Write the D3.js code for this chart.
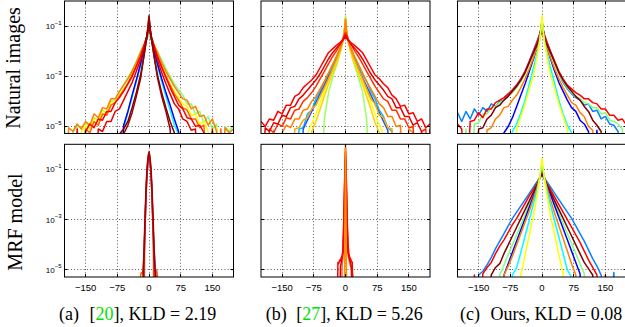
<!DOCTYPE html>
<html><head><meta charset="utf-8">
<script src="https://cdn.jsdelivr.net/npm/d3@7"></script>
<style>body{margin:0;background:#fff}svg{display:block}</style>
</head><body>
<svg id="chart" width="625" height="327"></svg>
<script>
const _ = null;
// ---- axes ----
const xTicks = [-150, -75, 0, 75, 150];
const xTickLabels = ["\u2212150", "\u221275", "0", "75", "150"];
const yTickExps = [-1, -3, -5];
const rowLabels = ["Natural images", "MRF model"];
const capLetters = ["(a)", "(b)", "(c)"];
const capRefs = ["20", "27", null];
const capKLD = ["2.19", "5.26", "0.08"];

// ---- x grids (filter response) ----
const xsWide = [-200,-190,-180,-170,-160,-150,-140,-130,-120,-110,-100,-90,-80,-70,-60,-50,-40,-30,-20,-12,-6,-3,
  0, 3,6,12,20,30,40,50,60,70,80,90,100,110,120,130,140,150,160,170,180,190,200];
const xsNarrow = [-24,-22,-20,-18,-16,-14,-12,-10,-8,-6,-4,-2,0,2,4,6,8,10,12,14,16,18,20,22,24];

// ---- log10 densities, (a) natural images ----
const natA_lightgreen = [-5.0,_,-5.25,-4.95,_,-4.85,-5.1,-4.65,-4.75,-4.35,-4.45,-4.0,-3.95,-3.6,-3.35,-3.05,-2.75,-2.4,-2.0,-1.75,-1.55,-1.45,
  -1.35, -1.45,-1.55,-1.75,-2.0,-2.35,-2.7,-3.0,-3.3,-3.55,-3.75,-4.1,-4.1,-4.5,-4.4,-4.85,-4.6,-5.1,-4.9,_,-5.0,-5.2,-4.95];
const natA_orange1 = [_,-5.05,-5.2,-4.9,-5.1,-4.8,-4.95,-4.5,-4.65,-4.25,-4.3,-3.9,-3.9,-3.6,-3.35,-3.1,-2.8,-2.45,-2.05,-1.75,-1.5,-1.35,
  -1.2, -1.35,-1.5,-1.75,-2.05,-2.45,-2.8,-3.1,-3.4,-3.65,-3.9,-3.95,-4.3,-4.2,-4.6,-4.55,-4.95,-4.7,-5.2,_,-5.05,-5.25,-5.1];
const natA_yellow = [_,_,_,_,-5.2,-4.95,-5.1,-4.7,-4.8,-4.4,-4.45,-4.05,-4.0,-3.75,-3.5,-3.25,-2.9,-2.5,-2.15,-1.8,-1.5,-1.35,
  -1.2, -1.35,-1.5,-1.8,-2.15,-2.55,-2.95,-3.3,-3.6,-3.85,-4.1,-4.2,-4.55,-4.5,-4.9,-4.8,-5.2,_,-5.05,_,_,_,_];
const natA_orange2 = [_,_,_,_,_,-5.1,-5.25,-4.8,-4.95,-4.5,-4.55,-4.15,-4.05,-3.8,-3.55,-3.3,-2.95,-2.6,-2.2,-1.8,-1.45,-1.3,
  -1.1, -1.3,-1.45,-1.8,-2.2,-2.6,-3.0,-3.35,-3.7,-3.95,-4.25,-4.35,-4.7,-4.7,-5.05,-4.95,_,-5.2,_,-5.1,_,_,_];
const natA_red1 = [_,_,_,-5.1,_,-5.2,-4.9,-5.05,-4.7,-4.75,-4.4,-4.4,-4.05,-3.85,-3.6,-3.3,-3.0,-2.6,-2.2,-1.8,-1.45,-1.25,
  -1.0, -1.25,-1.45,-1.8,-2.2,-2.65,-3.05,-3.45,-3.8,-4.15,-4.3,-4.65,-4.7,-5.0,-4.95,-5.25,_,-5.1,_,_,_,_,_];
const natA_red2 = [_,_,_,_,_,_,_,_,-5.1,-5.2,-4.8,-4.8,-4.4,-4.3,-3.95,-3.6,-3.25,-2.8,-2.35,-1.85,-1.45,-1.2,
  -0.9, -1.2,-1.45,-1.85,-2.35,-2.85,-3.3,-3.7,-4.1,-4.3,-4.7,-4.8,-5.15,-5.1,_,-5.25,_,_,_,_,_,_,_];
const natA_cyan = [_,_,_,_,_,_,_,_,_,_,_,_,_,_,-5.1,-4.45,-3.85,-3.2,-2.6,-2.0,-1.55,-1.25,
  -0.9, -1.25,-1.55,-2.0,-2.6,-3.2,-3.8,-4.35,-4.95,-5.3,_,_,_,_,_,_,_,_,_,_,_,_,_];
const natA_blue = [_,_,_,_,_,_,_,_,_,_,_,_,_,_,-4.95,-4.4,-3.75,-3.15,-2.5,-1.95,-1.55,-1.25,
  -0.9, -1.25,-1.55,-1.95,-2.5,-3.1,-3.65,-4.15,-4.7,-5.2,_,_,_,_,_,_,_,_,_,_,_,_,_];
const natA_darkred1 = [_,_,_,_,_,_,_,_,_,_,_,_,_,_,-5.3,-4.95,-4.45,-3.8,-3.1,-2.2,-1.5,-1.1,
  -0.58, -1.1,-1.5,-2.2,-3.05,-3.8,-4.4,-5.1,_,_,_,_,_,_,_,_,_,_,_,_,_,_,_];
const natA_darkred2 = [_,_,_,_,_,_,_,_,_,_,_,_,_,-5.3,-5.1,-4.8,-4.25,-3.65,-2.95,-2.2,-1.55,-1.15,
  -0.65, -1.15,-1.55,-2.2,-2.95,-3.65,-4.25,-4.8,-5.25,_,_,_,_,_,_,_,_,_,_,_,_,_,_];

// ---- (b) natural images ----
const natB_redA = [-4.8,-5.0,-4.7,-4.75,-4.4,-4.5,-4.15,-4.15,-3.8,-3.7,-3.45,-3.3,-3.15,-2.95,-2.65,-2.35,-2.05,-1.9,-1.75,-1.65,-1.55,-1.5,
  -1.45, -1.5,-1.55,-1.65,-1.75,-1.9,-2.05,-2.35,-2.65,-2.95,-3.1,-3.3,-3.45,-3.75,-3.9,-4.2,-4.15,-4.5,-4.45,-4.8,-4.7,-5.05,-4.9];
const natB_redB = [_,-5.05,-5.2,-4.85,-4.9,-4.55,-4.6,-4.25,-4.2,-3.9,-3.75,-3.55,-3.35,-3.15,-2.9,-2.6,-2.3,-2.05,-1.85,-1.7,-1.55,-1.45,
  -1.35, -1.45,-1.55,-1.7,-1.85,-2.05,-2.3,-2.6,-2.9,-3.15,-3.35,-3.55,-3.8,-3.9,-4.25,-4.25,-4.6,-4.6,-4.95,-4.85,-5.2,_,-5.1];
const natB_redC = [_,_,-5.1,-5.25,-4.9,-5.0,-4.65,-4.7,-4.35,-4.3,-4.0,-3.85,-3.65,-3.4,-3.1,-2.8,-2.5,-2.2,-1.95,-1.7,-1.5,-1.35,
  -1.25, -1.35,-1.5,-1.7,-1.95,-2.2,-2.5,-2.8,-3.1,-3.4,-3.65,-3.9,-4.0,-4.35,-4.35,-4.7,-4.7,-5.05,-5.0,_,-5.2,-5.1,_];
const natB_orange1 = [_,_,_,-5.15,_,-5.25,-4.95,-5.05,-4.7,-4.7,-4.35,-4.3,-4.0,-3.8,-3.5,-3.2,-2.85,-2.5,-2.15,-1.85,-1.55,-1.3,
  -0.75, -1.3,-1.55,-1.85,-2.15,-2.5,-2.85,-3.2,-3.5,-3.8,-4.1,-4.25,-4.6,-4.6,-5.0,-4.95,_,-5.1,-5.25,_,_,_,_];
const natB_orange2 = [_,_,_,_,_,_,_,_,-5.1,-5.05,-4.75,-4.65,-4.3,-4.15,-3.8,-3.45,-3.1,-2.7,-2.3,-1.95,-1.6,-1.3,
  -0.7, -1.3,-1.6,-1.95,-2.3,-2.7,-3.1,-3.5,-3.9,-4.1,-4.55,-4.65,-5.05,-5.1,_,-5.2,_,_,_,_,_,_,_];
const natB_cyan = [_,_,_,_,_,_,_,_,_,-5.1,-5.05,-4.5,-4.35,-3.9,-3.6,-3.2,-2.9,-2.6,-2.2,-1.85,-1.55,-1.3,
  -0.9, -1.3,-1.55,-1.85,-2.2,-2.6,-2.9,-3.2,-3.6,-3.9,-4.35,-4.6,-5.05,-5.2,_,_,_,_,_,_,_,_,_];
const natB_blue = [_,_,_,_,_,_,_,_,_,_,-5.1,-4.75,-4.4,-4.05,-3.7,-3.35,-3.0,-2.7,-2.3,-1.9,-1.55,-1.3,
  -0.9, -1.3,-1.55,-1.9,-2.3,-2.7,-3.05,-3.4,-3.75,-4.1,-4.45,-4.8,-5.15,_,_,_,_,_,_,_,_,_,_];
const natB_yellow1 = [_,_,_,_,_,_,_,_,_,_,_,_,-5.2,-4.8,-4.3,-3.8,-3.3,-2.85,-2.45,-2.0,-1.6,-1.3,
  -0.7, -1.3,-1.6,-2.0,-2.45,-2.85,-3.3,-3.8,-4.3,-4.85,-5.25,_,_,_,_,_,_,_,_,_,_,_,_];
const natB_yellow2 = [_,_,_,_,_,_,_,_,_,_,_,-5.25,-4.9,-4.5,-4.05,-3.6,-3.15,-2.75,-2.35,-1.95,-1.6,-1.3,
  -0.7, -1.3,-1.6,-1.95,-2.35,-2.75,-3.15,-3.6,-4.05,-4.5,-4.95,-5.3,_,_,_,_,_,_,_,_,_,_,_];
const natB_lightgreen = [_,_,_,_,_,_,_,_,_,_,_,_,_,_,_,-4.7,-3.65,-3.0,-2.5,-2.0,-1.6,-1.25,
  -0.58, -1.25,-1.6,-2.0,-2.5,-3.0,-3.6,-4.7,_,_,_,_,_,_,_,_,_,_,_,_,_,_,_];

// ---- (c) natural images ----
const natC_dodger = [-4.45,-4.8,-4.4,-4.7,-4.3,-4.55,-4.25,-4.4,-4.1,-4.2,-4.0,-3.95,-3.75,-3.55,-3.35,-3.1,-2.8,-2.4,-1.95,-1.62,-1.33,-1.14,
  -0.85, -1.15,-1.35,-1.65,-2.0,-2.45,-2.9,-3.25,-3.5,-3.7,-3.85,-3.95,-4.15,-4.1,-4.4,-4.35,-4.7,-4.6,-4.9,-4.95,-5.2,_,-5.1];
const natC_red = [-4.9,-5.1,_,-4.8,-4.75,-4.45,-4.65,-4.3,-4.3,-4.05,-3.95,-3.85,-3.7,-3.55,-3.35,-3.1,-2.8,-2.4,-2.0,-1.65,-1.35,-1.15,
  -0.8, -1.15,-1.35,-1.65,-2.0,-2.4,-2.8,-3.1,-3.35,-3.5,-3.65,-3.75,-3.9,-3.9,-4.05,-4.1,-4.3,-4.3,-4.55,-4.55,-4.75,-4.7,-4.95];
const natC_lightgreen = [_,_,-5.1,_,-4.9,-4.85,-4.5,-4.5,-4.25,-4.2,-4.05,-3.95,-3.8,-3.65,-3.45,-3.2,-2.9,-2.5,-2.05,-1.7,-1.4,-1.2,
  -0.85, -1.2,-1.4,-1.7,-2.05,-2.5,-2.9,-3.2,-3.45,-3.65,-3.8,-3.9,-4.05,-4.1,-4.25,-4.25,-4.5,-4.45,-4.75,-4.8,-4.9,-5.1,_];
const natC_darkred = [_,_,_,_,_,-5.1,-5.05,-4.7,-4.55,-4.25,-4.15,-3.95,-3.8,-3.6,-3.4,-3.15,-2.85,-2.45,-2.05,-1.75,-1.5,-1.35,
  -1.2, -1.35,-1.5,-1.75,-2.05,-2.45,-2.85,-3.15,-3.4,-3.6,-3.8,-3.95,-4.2,-4.4,-4.75,-4.95,-5.2,_,_,_,_,_,_];
const natC_orange = [_,_,_,_,_,_,_,-5.15,-5.05,-4.7,-4.55,-4.25,-4.2,-3.95,-3.75,-3.45,-3.1,-2.7,-2.25,-1.85,-1.5,-1.25,
  -0.75, -1.25,-1.5,-1.85,-2.25,-2.7,-3.1,-3.45,-3.75,-4.05,-4.15,-4.45,-4.6,-5.0,-5.15,_,_,_,_,_,_,_,_];
const natC_blue = [_,_,_,_,_,_,_,_,_,_,_,-5.25,-5.0,-4.65,-4.2,-3.75,-3.3,-2.8,-2.3,-1.85,-1.5,-1.25,
  -0.8, -1.25,-1.5,-1.85,-2.3,-2.8,-3.25,-3.6,-3.95,-4.25,-4.4,-4.75,-4.9,-5.2,_,-5.15,_,_,_,_,_,_,_];
const natC_cyan = [_,_,_,_,_,_,_,_,_,_,_,_,_,-5.2,-4.9,-4.45,-3.95,-3.3,-2.65,-2.1,-1.6,-1.25,
  -0.7, -1.25,-1.6,-2.1,-2.65,-3.3,-3.95,-4.5,-4.95,-5.25,_,_,_,_,_,_,_,_,_,_,_,_,_];
const natC_yellow = [_,_,_,_,_,_,_,_,_,_,_,_,_,_,-5.1,-4.6,-4.1,-3.5,-2.95,-2.25,-1.65,-1.25,
  -0.58, -1.25,-1.65,-2.25,-2.95,-3.5,-4.1,-4.6,-5.1,_,_,_,_,_,_,_,_,_,_,_,_,_,_];

// ---- (a) MRF model [20] ----
const mrfA_olive = [_,_,_,_,_,_,_,-4.0,-2.7,-1.7,-1.05,-0.7,-0.55,-0.7,-1.05,-1.7,-2.7,-4.0,_,_,_,_,_,_,_];
const mrfA_orange = [_,_,-5.2,-5.1,-5.15,-5.0,-4.5,-3.4,-2.4,-1.6,-1.0,-0.6,-0.5,-0.6,-1.0,-1.6,-2.4,-3.4,-4.4,-5.05,-5.1,-5.0,-5.2,_,_];
const mrfA_blue = [_,_,_,_,_,_,-4.8,-3.6,-2.5,-1.6,-1.0,-0.65,-0.5,-0.65,-1.0,-1.6,-2.45,-3.35,-4.1,-4.7,-5.15,_,_,_,_];
const mrfA_red = [_,_,_,_,_,_,-4.9,-3.6,-2.5,-1.55,-0.95,-0.55,-0.4,-0.55,-0.95,-1.55,-2.5,-3.6,-4.9,_,_,_,_,_,_];
const mrfA_darkred = [_,_,_,_,_,-5.1,-4.3,-3.2,-2.2,-1.35,-0.8,-0.45,-0.3,-0.45,-0.8,-1.35,-2.15,-3.1,-4.1,-4.9,-5.25,_,_,_,_];

// ---- (b) MRF model [27] ----
const mrfB_salmon = [_,_,_,_,_,_,_,_,-4.8,-4.5,-3.4,-1.9,-0.6,-1.9,-3.4,-4.4,-4.6,-4.75,-4.85,-4.95,-5.1,-5.25,_,_,_];
const mrfB_red2 = [_,_,_,_,_,_,-4.9,-4.7,-4.5,-4.3,-3.2,-1.6,-0.3,-1.6,-3.2,-4.3,-4.45,-4.6,-4.7,-4.9,_,_,_,_,_];
const mrfB_red1 = [_,_,_,-4.7,-4.75,-4.6,-4.65,-4.5,-4.45,-4.2,-2.9,-1.4,-0.15,-1.4,-2.9,-4.0,-4.35,-4.5,-4.55,-4.65,-4.7,_,_,_,_];
const mrfB_orange = [_,_,_,_,_,_,_,_,_,_,_,-4.8,0.1,-4.8,_,_,_,_,_,_,_,_,_,_,_];

// ---- (c) MRF model, ours ----
const mrfC_dodger = [_,_,_,_,_,-5.2,-5.05,-4.8,-4.5,-4.15,-3.85,-3.55,-3.25,-2.95,-2.7,-2.45,-2.2,-1.95,-1.7,-1.5,-1.35,-1.27,
  -1.2, -1.27,-1.35,-1.5,-1.7,-1.95,-2.2,-2.45,-2.7,-2.95,-3.25,-3.55,-3.85,-4.2,-4.55,-4.85,-5.2,_,_,-5.1,_,_,_];
const mrfC_red = [_,_,_,_,-5.2,_,-5.15,-4.9,-4.7,-4.35,-4.05,-3.8,-3.5,-3.2,-2.95,-2.65,-2.35,-2.05,-1.8,-1.55,-1.35,-1.25,
  -1.15, -1.25,-1.35,-1.55,-1.8,-2.1,-2.4,-2.7,-3.0,-3.3,-3.6,-3.9,-4.25,-4.6,-4.9,-5.2,_,-5.2,_,_,_,_,_];
const mrfC_lightgreen = [_,_,_,_,_,_,_,_,_,_,-5.2,-4.8,-4.4,-4.0,-3.6,-3.2,-2.8,-2.35,-1.95,-1.6,-1.35,-1.2,
  -1.05, -1.2,-1.35,-1.6,-1.95,-2.35,-2.75,-3.15,-3.55,-3.95,-4.35,-4.75,-5.15,_,_,_,_,_,_,_,_,_,_];
const mrfC_blue = [_,_,_,_,_,_,_,_,_,_,_,-5.2,-4.75,-4.3,-3.85,-3.4,-2.95,-2.5,-2.05,-1.7,-1.35,-1.2,
  -1.0, -1.2,-1.35,-1.65,-2.0,-2.45,-2.9,-3.35,-3.8,-4.25,-4.7,-5.15,_,_,_,_,_,_,_,_,_,_,_];
const mrfC_darkred = [_,_,_,_,_,_,_,_,-5.2,-4.9,-4.75,-4.35,-4.0,-3.65,-3.3,-2.95,-2.6,-2.25,-1.9,-1.6,-1.4,-1.3,
  -1.15, -1.3,-1.4,-1.6,-1.9,-2.25,-2.6,-2.95,-3.3,-3.65,-4.0,-4.35,-4.7,-4.95,-5.2,_,_,_,_,_,_,_,_];
const mrfC_orange = [_,_,_,_,_,_,_,_,_,_,_,-5.2,-4.85,-4.45,-4.0,-3.55,-3.1,-2.65,-2.15,-1.75,-1.35,-1.1,
  -0.8, -1.1,-1.35,-1.75,-2.2,-2.75,-3.25,-3.75,-4.25,-4.75,-5.2,_,_,_,_,_,_,_,_,_,_,_,_];
const mrfC_cyan = [_,_,_,_,_,_,_,_,_,_,_,_,_,-5.2,-4.9,-4.3,-3.65,-3.0,-2.35,-1.85,-1.4,-1.1,
  -0.75, -1.1,-1.4,-1.85,-2.4,-3.05,-3.7,-4.35,-5.0,-5.3,_,_,_,_,_,_,_,_,_,_,_,_,_];
const mrfC_yellow = [_,_,_,_,_,_,_,_,_,_,_,_,_,_,_,-5.2,-4.4,-3.6,-2.85,-2.05,-1.4,-1.0,
  -0.55, -1.0,-1.4,-2.05,-2.85,-3.6,-4.4,-5.15,_,_,_,_,_,_,_,_,_,_,_,_,_,_,_];

// ---- layout & styles ----
const C = {lg:"#80ff80", ye:"#ffff00", or:"#ff8000", re:"#ff0000", dr:"#800000", cy:"#00ffff", bl:"#0000ff", db:"#0a7fff"};
const panels = [
  {col:0,row:0,xs:xsWide,series:[[natA_lightgreen,C.lg],[natA_yellow,C.ye],[natA_orange1,C.or],[natA_orange2,"#ff6000"],[natA_cyan,C.cy],[natA_blue,C.bl],[natA_red1,C.re],[natA_red2,"#e80000"],[natA_darkred2,C.dr],[natA_darkred1,"#9a0000"]]},
  {col:1,row:0,xs:xsWide,series:[[natB_cyan,"#00bfff"],[natB_blue,"#2050ff"],[natB_lightgreen,"#9cff60"],[natB_yellow1,"#ffd000"],[natB_yellow2,C.ye],[natB_orange2,"#ffa500"],[natB_orange1,C.or],[natB_redC,"#ff3000"],[natB_redB,"#e80000"],[natB_redA,C.re]]},
  {col:2,row:0,xs:xsWide,series:[[natC_dodger,C.db],[natC_lightgreen,C.lg],[natC_red,C.re],[natC_blue,C.bl],[natC_orange,C.or],[natC_darkred,C.dr],[natC_cyan,C.cy],[natC_yellow,C.ye]]},
  {col:0,row:1,xs:xsNarrow,series:[[mrfA_olive,"#b8b050"],[mrfA_orange,"#ff6a00"],[mrfA_blue,"#5a5aff"],[mrfA_red,C.re],[mrfA_darkred,"#a00000"]]},
  {col:1,row:1,xs:xsNarrow,series:[[mrfB_salmon,"#ff6a4a"],[mrfB_red2,"#d80000"],[mrfB_red1,C.re],[mrfB_orange,"#ff9000"]]},
  {col:2,row:1,xs:xsWide,series:[[mrfC_dodger,C.db],[mrfC_red,C.re],[mrfC_lightgreen,C.lg],[mrfC_blue,C.bl],[mrfC_darkred,C.dr],[mrfC_orange,C.or],[mrfC_cyan,C.cy],[mrfC_yellow,C.ye]]}
];
const COL_X = [64.5, 261, 457.5], PW = 169;
const ROWS = [[1, 133.5], [144.3, 277]];
const YMIN = Math.pow(10, -5.28), FLOOR = 1e-8;

const svg = d3.select("#chart");
const defs = svg.append("defs");

panels.forEach((p, i) => {
  const x0 = COL_X[p.col], x1 = x0 + PW;
  const [yt, yb] = ROWS[p.row];
  const x = d3.scaleLinear().domain([-200, 200]).range([x0, x1]);
  const y = d3.scaleLog().domain([YMIN, 1]).range([yb, yt]);
  const g = svg.append("g");
  // grid
  xTicks.forEach(t => {
    const px = Math.floor(x(t)) + 0.5;
    g.append("line").attr("x1", px).attr("x2", px).attr("y1", yt).attr("y2", yb)
      .attr("stroke", "#444").attr("stroke-width", 0.9).attr("stroke-dasharray", "1,2.2");
  });
  yTickExps.forEach(e => {
    const py = Math.floor(y(Math.pow(10, e))) + 0.5;
    g.append("line").attr("x1", x0).attr("x2", x1).attr("y1", py).attr("y2", py)
      .attr("stroke", "#444").attr("stroke-width", 0.9).attr("stroke-dasharray", "1,2.2");
  });
  // curves
  const cid = "clip" + i;
  defs.append("clipPath").attr("id", cid).append("rect")
    .attr("x", x0).attr("y", yt).attr("width", PW).attr("height", yb - yt);
  const line = d3.line()
    .x(d => x(d[0]))
    .y(d => y(d[1] === null ? FLOOR : Math.pow(10, d[1])));
  const cg = g.append("g").attr("clip-path", `url(#${cid})`);
  p.series.forEach(([vals, col]) => {
    const pts = p.xs.map((xv, k) => [xv, vals[k]]);
    cg.append("path").attr("d", line(pts)).attr("fill", "none")
      .attr("stroke", col).attr("stroke-width", 1.5).attr("stroke-linejoin", "round");
  });
  // frame
  g.append("rect").attr("x", x0).attr("y", yt).attr("width", PW).attr("height", yb - yt)
    .attr("fill", "none").attr("stroke", "#000").attr("stroke-width", 1);
  // ticks
  xTicks.forEach(t => {
    const px = Math.floor(x(t)) + 0.5;
    g.append("line").attr("x1", px).attr("x2", px).attr("y1", yb).attr("y2", yb - 3).attr("stroke", "#000");
    g.append("line").attr("x1", px).attr("x2", px).attr("y1", yt).attr("y2", yt + 3).attr("stroke", "#000");
  });
  yTickExps.forEach(e => {
    const py = Math.floor(y(Math.pow(10, e))) + 0.5;
    g.append("line").attr("x1", x0).attr("x2", x0 + 3).attr("y1", py).attr("y2", py).attr("stroke", "#000");
    g.append("line").attr("x1", x1).attr("x2", x1 - 3).attr("y1", py).attr("y2", py).attr("stroke", "#000");
  });
  // y tick labels (first column only)
  if (p.col === 0) {
    yTickExps.forEach(e => {
      const py = y(Math.pow(10, e));
      const t = svg.append("text").attr("x", 61.5).attr("y", py + 3)
        .attr("text-anchor", "end").attr("font-family", "'Liberation Sans', Arial, sans-serif")
        .attr("font-size", 8).attr("fill", "#000");
      t.append("tspan").text("10");
      t.append("tspan").attr("dy", -4.5).attr("font-size", 6).text("\u2212" + Math.abs(e));
    });
  }
  // x tick labels (bottom row only)
  if (p.row === 1) {
    xTicks.forEach((t, k) => {
      svg.append("text").attr("x", x(t)).attr("y", 290.7).attr("text-anchor", "middle")
        .attr("font-family", "'Liberation Sans', Arial, sans-serif").attr("font-size", 9.5)
        .attr("fill", "#000").text(xTickLabels[k]);
    });
  }
});

// row labels
const serif = "'Liberation Serif', 'Times New Roman', serif";
svg.append("text").attr("transform", "translate(19.5,68) rotate(-90)").attr("text-anchor", "middle")
  .attr("font-family", serif).attr("font-size", 20).text(rowLabels[0]);
svg.append("text").attr("transform", "translate(21.5,222) rotate(-90)").attr("text-anchor", "middle")
  .attr("font-family", serif).attr("font-size", 20).text(rowLabels[1]);

// captions
const capX = [59, 265.7, 460];
capLetters.forEach((lab, i) => {
  svg.append("text").attr("x", capX[i]).attr("y", 320).attr("font-family", serif)
    .attr("font-size", 18).text(lab);
  const t = svg.append("text").attr("x", capX[i] + 30.5).attr("y", 320)
    .attr("font-family", serif).attr("font-size", 18);
  if (capRefs[i]) {
    t.append("tspan").text("[");
    t.append("tspan").attr("fill", "#00e000").text(capRefs[i]);
    t.append("tspan").text("], KLD = " + capKLD[i]);
  } else {
    t.append("tspan").text("Ours, KLD = " + capKLD[i]);
  }
});
</script>
</body></html>
